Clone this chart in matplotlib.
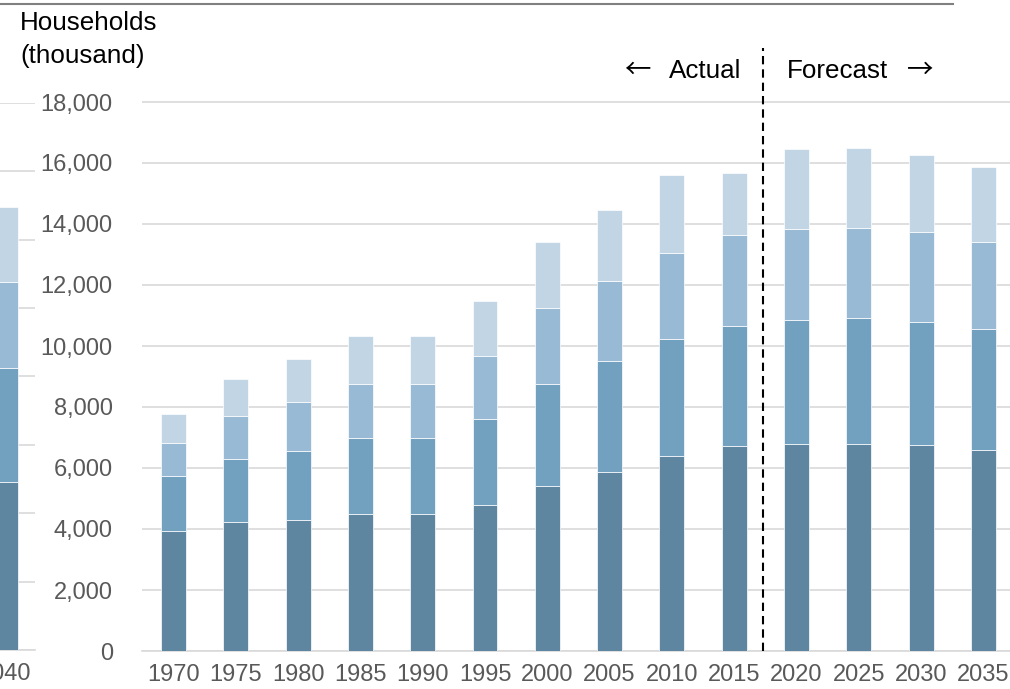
import matplotlib
matplotlib.use("Agg")
import matplotlib.pyplot as plt
from matplotlib.lines import Line2D
import numpy as np

plt.rcParams['font.family'] = ['Liberation Sans', 'DejaVu Sans']

# ---------------- data (households, thousand) ----------------
years = ['1970', '1975', '1980', '1985', '1990', '1995', '2000',
         '2005', '2010', '2015', '2020', '2025', '2030', '2035']
seg1 = [3940, 4240, 4300, 4500, 4500, 4790, 5420, 5880, 6390, 6710, 6790, 6800, 6740, 6600]
seg2 = [1800, 2060, 2270, 2490, 2490, 2830, 3350, 3620, 3850, 3950, 4070, 4120, 4050, 3970]
seg3 = [1070, 1400, 1580, 1760, 1780, 2060, 2480, 2630, 2820, 2980, 2980, 2960, 2950, 2850]
seg4 = [970, 1230, 1420, 1580, 1560, 1810, 2170, 2320, 2540, 2020, 2620, 2600, 2520, 2450]

# partial panel visible at the left edge
edge_year = ['2040']
edge_seg1 = [4900]
edge_seg2 = [3350]
edge_seg3 = [2520]
edge_seg4 = [2170]

ytick_vals = list(range(0, 18001, 2000))
edge_ytick_vals = list(range(0, 16001, 2000))

colors = ['#5E86A1', '#72A1C0', '#98BAD5', '#C2D5E5']
grid_c = '#D9D9D9'
tick_c = '#595959'

W, H = 1010, 689
fig = plt.figure(figsize=(W / 100, H / 100), dpi=100)


def fx(px):
    return px / W


def fy(py):
    return 1 - py / H


def draw_stack(ax, xs, segs, width):
    bottom = np.zeros(len(xs))
    for s, c in zip(segs, colors):
        s = np.asarray(s, dtype=float)
        ax.bar(xs, s, width=width, bottom=bottom, color=c,
               edgecolor='white', linewidth=0.5, zorder=2)
        bottom += s


def style_axis(ax):
    for sp in ax.spines.values():
        sp.set_visible(False)
    ax.yaxis.grid(True, color=grid_c, linewidth=1.2, zorder=0)
    ax.set_axisbelow(True)
    ax.tick_params(axis='both', length=0, colors=tick_c, labelsize=17)
    ax.tick_params(axis='x', pad=9.5)
    ax.axhline(0, color=grid_c, linewidth=1.2, clip_on=False, zorder=1)


# ---------------- main axes ----------------
px_unit = 62.3
ax = fig.add_axes([fx(142), fy(651), fx(1010 - 142), (651 - 41) / H])
x = np.arange(len(years))
draw_stack(ax, x, [seg1, seg2, seg3, seg4], 0.40)
ax.set_xlim(-0.506, -0.506 + (1010 - 142) / px_unit)
ax.set_ylim(0, 20000)
ax.set_xticks(x)
ax.set_xticklabels(years)
ax.set_yticks(ytick_vals)
ax.set_yticklabels([f"{v:,}" for v in ytick_vals])
style_axis(ax)
ax.tick_params(axis='y', pad=21)

ax.axvline(9.46, ymin=0, ymax=(651 - 48) / 610, color='black',
           linewidth=1.5, linestyle=(0, (4, 2.4)), zorder=3)

# ---------------- partial left-edge axes ----------------
ax2 = fig.add_axes([fx(-60), fy(650), fx(95), (650 - 102.8) / H])
draw_stack(ax2, [0], [edge_seg1, edge_seg2, edge_seg3, edge_seg4], 0.42)
ax2.set_xlim((-60 - 5) / px_unit, (35 - 5) / px_unit)
ax2.set_ylim(0, 16000)
ax2.set_xticks([0])
ax2.set_xticklabels(edge_year)
ax2.set_yticks(edge_ytick_vals)
ax2.set_yticklabels([])
style_axis(ax2)

# ---------------- texts ----------------
fig.text(fx(20), fy(30), 'Households', fontsize=18.7, color='black',
         ha='left', va='baseline')
fig.text(fx(20), fy(62.5), '(thousand)', fontsize=18.7, color='black',
         ha='left', va='baseline')
fig.text(fx(741), fy(78), 'Actual', fontsize=18.7, color='black',
         ha='right', va='baseline')
fig.text(fx(787), fy(78), 'Forecast', fontsize=18.7, color='black',
         ha='left', va='baseline')
arrow_font = ['Noto Sans CJK JP', 'DejaVu Sans']
fig.text(fx(637), fy(70.7), '\u2190', fontsize=19, color='black',
         ha='center', va='center', family=arrow_font)
fig.text(fx(920.5), fy(70.7), '\u2192', fontsize=19, color='black',
         ha='center', va='center', family=arrow_font)

fig.add_artist(Line2D([0, fx(953)], [fy(3.7), fy(3.7)], color='#808080',
                      linewidth=1.5))

fig.savefig('out.png', dpi=100)
